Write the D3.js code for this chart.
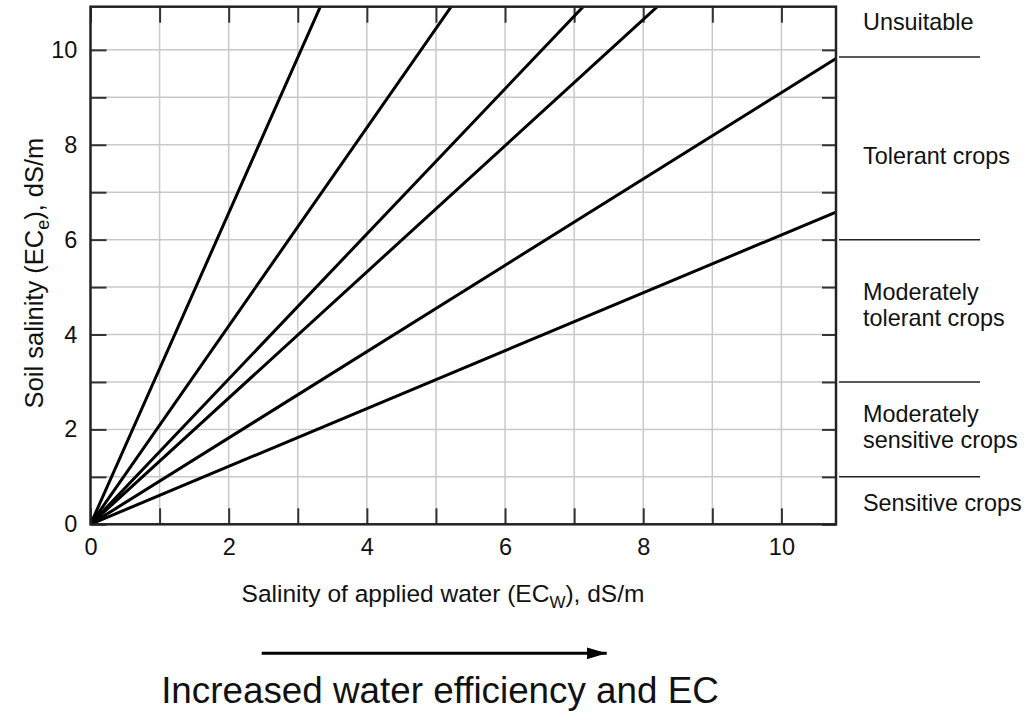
<!DOCTYPE html>
<meta charset="utf-8">
<script src="https://d3js.org/d3.v7.min.js"></script>
<style>
  body { margin: 0; background: #fff; }
  svg { display: block; font-family: "Liberation Sans", Arial, sans-serif; }
  text { fill: #111; }
</style>
<body>
<div id="chart"></div>
<script>
// ECe / ECw ratio of each line
var lineSlopes = [3.28, 2.09, 1.53, 1.33, 0.91, 0.61];

// crop tolerance classes on the right side (ECe boundaries, dS/m)
var bandBounds = [1, 3, 6, 9.85];
var bandLabels = [
  ["Sensitive crops"],
  ["Moderately", "sensitive crops"],
  ["Moderately", "tolerant crops"],
  ["Tolerant crops"],
  ["Unsuitable"]
];

var xTicks = [0, 1, 2, 3, 4, 5, 6, 7, 8, 9, 10];
var yTicks = [0, 1, 2, 3, 4, 5, 6, 7, 8, 9, 10];
var xMax = 10.79, yMax = 10.91;

var W = 1031, H = 713;
var plotL = 90.5, plotT = 6.7, plotR = 836, plotB = 524.3;
var fontSize = 23.5;

var svg = d3.select("#chart").append("svg")
  .attr("width", W)
  .attr("height", H);

var x = d3.scaleLinear().domain([0, xMax]).range([plotL, plotR]);
var y = d3.scaleLinear().domain([0, yMax]).range([plotB, plotT]);

// grid
svg.append("g")
  .selectAll("line")
  .data(xTicks.slice(1))
  .enter().append("line")
  .attr("x1", d => x(d)).attr("x2", d => x(d))
  .attr("y1", plotT).attr("y2", plotB)
  .attr("stroke", "#c9c9c9")
  .attr("stroke-width", 1.5);

svg.append("g")
  .selectAll("line")
  .data(yTicks.slice(1))
  .enter().append("line")
  .attr("x1", plotL).attr("x2", plotR)
  .attr("y1", d => y(d)).attr("y2", d => y(d))
  .attr("stroke", "#c9c9c9")
  .attr("stroke-width", 1.5);

// inward ticks on all four sides
function styleAxis(g) {
  g.select(".domain").remove();
  g.selectAll(".tick line").attr("stroke", "#333").attr("stroke-width", 2);
  g.selectAll(".tick text")
    .style("font-size", fontSize + "px")
    .style("font-family", "Liberation Sans, Arial, sans-serif")
    .attr("fill", "#111");
}

var evenFmt = d => (d % 2 === 0 ? d : "");

svg.append("g")
  .attr("transform", "translate(0," + plotB + ")")
  .call(d3.axisBottom(x).tickValues(xTicks).tickFormat(evenFmt).tickSize(-16).tickPadding(14.4))
  .call(styleAxis);

svg.append("g")
  .attr("transform", "translate(0," + plotT + ")")
  .call(d3.axisTop(x).tickValues(xTicks).tickFormat("").tickSize(-16))
  .call(styleAxis);

svg.append("g")
  .attr("transform", "translate(" + plotL + ",0)")
  .call(d3.axisLeft(y).tickValues(yTicks).tickFormat(evenFmt).tickSize(-16).tickPadding(13.2))
  .call(styleAxis);

svg.append("g")
  .attr("transform", "translate(" + plotR + ",0)")
  .call(d3.axisRight(y).tickValues(yTicks).tickFormat("").tickSize(-14))
  .call(styleAxis);

// lines
svg.append("clipPath").attr("id", "plotclip")
  .append("rect")
  .attr("x", plotL).attr("y", plotT)
  .attr("width", plotR - plotL).attr("height", plotB - plotT);

svg.append("g")
  .attr("clip-path", "url(#plotclip)")
  .selectAll("line")
  .data(lineSlopes)
  .enter().append("line")
  .attr("x1", x(0)).attr("y1", y(0))
  .attr("x2", x(xMax)).attr("y2", d => y(d * xMax))
  .attr("stroke", "#000")
  .attr("stroke-width", 3)
  .attr("stroke-linecap", "round");

// frame
svg.append("rect")
  .attr("x", plotL).attr("y", plotT)
  .attr("width", plotR - plotL).attr("height", plotB - plotT)
  .attr("fill", "none")
  .attr("stroke", "#222")
  .attr("stroke-width", 2.5);

// class boundaries on the right
svg.append("g")
  .selectAll("line")
  .data(bandBounds)
  .enter().append("line")
  .attr("x1", 839).attr("x2", 980)
  .attr("y1", d => y(d)).attr("y2", d => y(d))
  .attr("stroke", "#222")
  .attr("stroke-width", 1.5);

var edges = [0].concat(bandBounds, [yMax]);
var nudge = [2, -3, -6, 7, -10];
var lineGap = 26;

bandLabels.forEach(function (lines, i) {
  var mid = y((edges[i] + edges[i + 1]) / 2) + nudge[i];
  lines.forEach(function (s, j) {
    svg.append("text")
      .attr("x", 863)
      .attr("y", mid + (j - (lines.length - 1) / 2) * lineGap)
      .attr("dy", "0.35em")
      .style("font-size", "23.4px")
      .text(s);
  });
});

// axis titles
var xt = svg.append("text")
  .attr("x", 443)
  .attr("y", 601.7)
  .attr("text-anchor", "middle")
  .style("font-size", "24.5px");
xt.append("tspan").text("Salinity of applied water (EC");
xt.append("tspan").attr("dy", 6).style("font-size", "17px").text("W");
xt.append("tspan").attr("dy", -6).text("), dS/m");

var yt = svg.append("text")
  .attr("transform", "translate(43,273) rotate(-90)")
  .attr("text-anchor", "middle")
  .style("font-size", "25.5px");
yt.append("tspan").text("Soil salinity (EC");
yt.append("tspan").attr("dy", 6).style("font-size", "18px").text("e");
yt.append("tspan").attr("dy", -6).text("), dS/m");

// arrow and caption
svg.append("defs").append("marker")
  .attr("id", "head")
  .attr("viewBox", "0 0 20 12")
  .attr("refX", 20).attr("refY", 6)
  .attr("markerWidth", 20).attr("markerHeight", 12)
  .attr("markerUnits", "userSpaceOnUse")
  .attr("orient", "auto")
  .append("path")
  .attr("d", "M0,0L20,6L0,12Z")
  .attr("fill", "#000");

svg.append("line")
  .attr("x1", 261.7).attr("x2", 606.7)
  .attr("y1", 653.3).attr("y2", 653.3)
  .attr("stroke", "#000")
  .attr("stroke-width", 3)
  .attr("marker-end", "url(#head)");

svg.append("text")
  .attr("x", 440)
  .attr("y", 703)
  .attr("text-anchor", "middle")
  .style("font-size", "36.8px")
  .text("Increased water efficiency and EC");
</script>
</body>
